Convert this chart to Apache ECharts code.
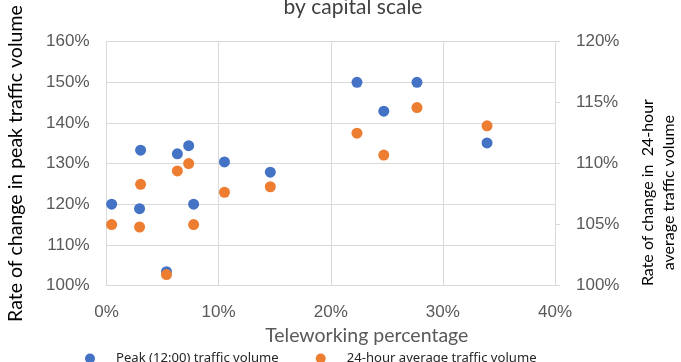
<!DOCTYPE html>
<html>
<head>
<meta charset="utf-8">
<script src="https://cdn.jsdelivr.net/npm/echarts@6/dist/echarts.min.js"></script>
<style>html,body{margin:0;padding:0;background:#fff}#c{width:681px;height:362px}</style>
</head>
<body>
<div id="c"></div>
<script>
// Data
const titleText = "by capital scale";
const xAxisName = "Teleworking percentage";
const leftAxisName = "Rate of change in peak traffic volume";
const rightAxisName = "Rate of change in  24-hour\naverage traffic volume";
const seriesNames = ["Peak (12:00) traffic volume", "24-hour average traffic volume"];
const teleworking = [0.46, 3.04, 2.95, 5.35, 6.32, 7.33, 7.77, 10.52, 14.61, 22.34, 24.73, 27.69, 33.94];
const peakVolume  = [120.0, 133.3, 118.9, 103.4, 132.4, 134.4, 120.0, 130.4, 127.9, 150.0, 142.9, 150.0, 135.1];
const avgVolume   = [105.0, 108.3, 104.8, 100.9, 109.4, 110.0, 105.0, 107.65, 108.1, 112.5, 110.7, 114.6, 113.1];

const chart = echarts.init(document.getElementById('c'), null, {renderer: 'canvas'});
const gray = '#595959';
const gridColor = '#d9d9d9';
chart.setOption({
  animation: false,
  backgroundColor: '#fff',
  title: {
    text: titleText, left: 348, top: -8, textAlign: 'center',
    textStyle: {fontFamily: 'Lato', fontSize: 21, fontWeight: 'normal', color: '#404040'}
  },
  grid: {left: 106.5, right: 126, top: 41.7, bottom: 76.5, containLabel: false, outerBoundsMode: 'none'},
  legend: {
    left: 80, top: 347, itemWidth: 10, itemHeight: 10, itemGap: 37, icon: 'circle',
    textStyle: {fontFamily: 'Noto Sans', fontSize: 13.1, color: '#262626', padding: [0, 0, 0, 16]},
    data: seriesNames
  },
  xAxis: {
    type: 'value', min: 0, max: 40, interval: 10,
    name: xAxisName, nameLocation: 'middle', nameGap: 36,
    nameTextStyle: {fontFamily: 'Lato', fontSize: 19.5, color: gray, padding: [0, 0, 0, 72]},
    axisLine: {show: true, lineStyle: {color: gridColor, width: 1}},
    axisTick: {show: false},
    axisLabel: {formatter: '{value}%', margin: 18, fontFamily: 'Liberation Sans', fontSize: 17, color: gray},
    splitLine: {show: true, lineStyle: {color: gridColor, width: 1}}
  },
  yAxis: [{
    type: 'value', min: 100, max: 160, interval: 10, position: 'left',
    name: leftAxisName, nameLocation: 'middle', nameGap: 81, nameRotate: 90,
    nameTextStyle: {fontFamily: 'Lato', fontSize: 19.5, color: '#000'},
    axisLine: {show: true, lineStyle: {color: gridColor, width: 1}},
    axisTick: {show: false},
    axisLabel: {formatter: '{value}%', margin: 17, fontFamily: 'Liberation Sans', fontSize: 17, color: gray},
    splitLine: {show: true, lineStyle: {color: gridColor, width: 1}}
  }, {
    type: 'value', min: 100, max: 120, interval: 5, position: 'right', alignTicks: false,
    name: rightAxisName, nameLocation: 'middle', nameGap: 82, nameRotate: 90,
    nameTextStyle: {fontFamily: 'Lato', fontSize: 16, color: '#000', lineHeight: 21.5, padding: [0, 58, 0, 0]},
    axisLine: {show: true, lineStyle: {color: gridColor, width: 1}},
    axisTick: {show: true, inside: false, length: 5, lineStyle: {color: gridColor}},
    axisLabel: {formatter: '{value}%', margin: 21, fontFamily: 'Liberation Sans', fontSize: 17, color: gray},
    splitLine: {show: false}
  }],
  series: [{
    name: seriesNames[0], type: 'scatter', yAxisIndex: 0, symbolSize: 11,
    itemStyle: {color: '#4472C4', opacity: 1},
    data: teleworking.map((x, i) => [x, peakVolume[i]])
  }, {
    name: seriesNames[1], type: 'scatter', yAxisIndex: 1, symbolSize: 11,
    itemStyle: {color: '#ED7D31', opacity: 1},
    data: teleworking.map((x, i) => [x, avgVolume[i]])
  }]
});
</script>
</body>
</html>
